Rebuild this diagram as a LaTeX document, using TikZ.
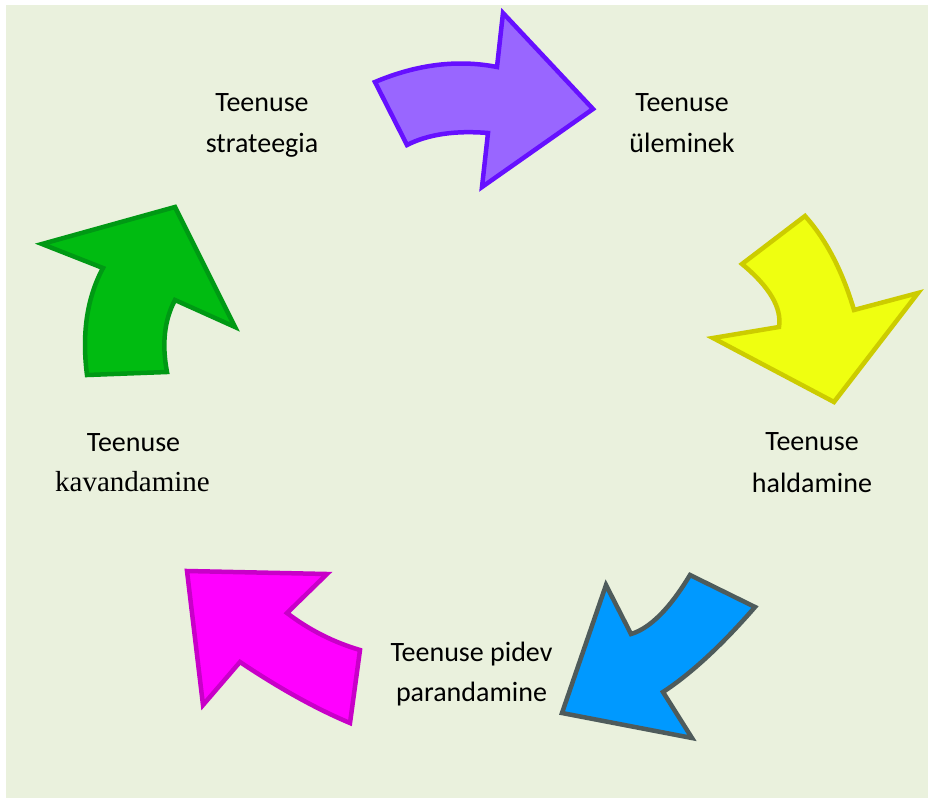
\documentclass[tikz,border=0pt]{standalone}
\usepackage{fontspec}
\setmainfont{Carlito}
\newfontfamily\serifalt{Liberation Serif}
\definecolor{bgc}{HTML}{EAF1DD}
\definecolor{purpF}{HTML}{9966FF}
\definecolor{purpD}{HTML}{6610FF}
\definecolor{yelF}{HTML}{EFFF10}
\definecolor{yelD}{HTML}{CCCC00}
\definecolor{bluF}{HTML}{0099FF}
\definecolor{bluD}{HTML}{4E5B5B}
\definecolor{magF}{HTML}{FF00FF}
\definecolor{magD}{HTML}{C800C8}
\definecolor{grnF}{HTML}{00BB11}
\definecolor{grnD}{HTML}{009914}
\begin{document}
\begin{tikzpicture}[x=1pt,y=-1pt,
  arrowshape/.style={line width=4.5pt,line join=miter,miter limit=20},
  lbl/.style={anchor=base,inner sep=0pt,font=\fontsize{28}{34}\selectfont}]
\useasboundingbox (0,0) rectangle (928,798);
\fill[bgc] (6,5) rectangle (928,798);
% purple
\draw[arrowshape,fill=purpF,draw=purpD] (375,82) .. controls (417,64.3) and (457.7,59.3) .. (497,67)
  -- (503,13) -- (593,109) -- (482,187) -- (488,133)
  .. controls (455,130.3) and (428,134.3) .. (407,145) -- cycle;
% yellow
\draw[arrowshape,fill=yelF,draw=yelD] (805,216) -- (742,264)
  .. controls (769.7,287) and (782,308) .. (779,327) -- (713,338) -- (834,402) -- (918,293) -- (854,310)
  .. controls (842.3,270.7) and (826,239.3) .. cycle;
% blue
\draw[arrowshape,fill=bluF,draw=bluD] (690,575) -- (755,607)
  .. controls (721.7,645.3) and (691,673.7) .. (663,692) -- (692,738) -- (562,713) -- (606,585) -- (631,634)
  .. controls (650,628.3) and (669.7,608.7) .. cycle;
% magenta
\draw[arrowshape,fill=magF,draw=magD] (187,571) -- (327,574) -- (287,613)
  .. controls (309.3,630) and (333.7,642.3) .. (360,650) -- (350,723)
  .. controls (316,708.7) and (279.3,688.3) .. (240,662) -- (203,705) -- cycle;
% green
\draw[arrowshape,fill=grnF,draw=grnD] (42,244) -- (175,207) -- (235,327) -- (175,300)
  .. controls (164.3,320) and (161.7,344) .. (167,372) -- (87,375)
  .. controls (81.7,333.3) and (87,297.7) .. (103,268) -- cycle;
% labels
\node[lbl] (s1) at (262,111.7) {Teenuse};
\node[lbl] (s2) at (262,152.7) {strateegia};
\node[lbl] (u1) at (682,111.7) {Teenuse};
\node[lbl] (u2) at (682,152.7) {üleminek};
\node[lbl] (h1) at (812,450.7) {Teenuse};
\node[lbl] (h2) at (812,492.7) {haldamine};
\node[lbl] (p1) at (471.5,661.7) {Teenuse pidev};
\node[lbl] (p2) at (471.5,701.7) {parandamine};
\node[lbl] (k1) at (133.5,451.7) {Teenuse};
\node[lbl,font=\serifalt\fontsize{29}{34}\selectfont] (k2) at (132.5,491.7) {kavandamine};
\end{tikzpicture}
\end{document}
